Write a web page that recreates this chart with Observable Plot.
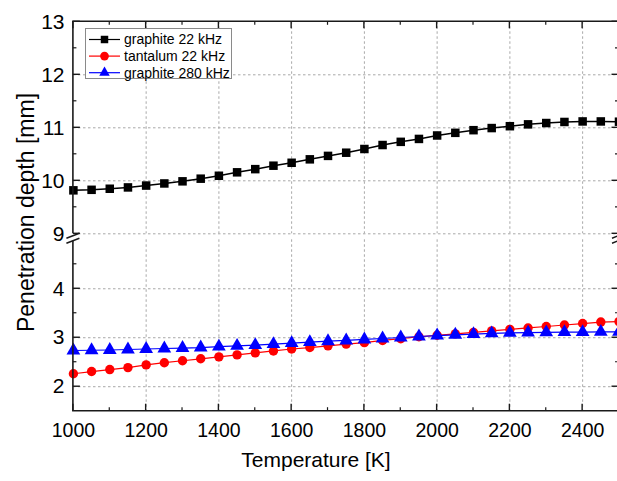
<!DOCTYPE html>
<html><head><meta charset="utf-8">
<script src="https://cdn.jsdelivr.net/npm/d3@7"></script>
<script src="https://cdn.jsdelivr.net/npm/@observablehq/plot@0.6"></script>
<style>html,body{margin:0;padding:0;overflow:hidden;background:#fff}
#chart{position:relative;width:617px;height:481px}
#chart svg{position:absolute;left:0;top:0}</style>
</head><body><div id="chart"></div>
<script>
const temperature = [1000,1050,1100,1150,1200,1250,1300,1350,1400,1450,1500,1550,1600,1650,1700,1750,1800,1850,1900,1950,2000,2050,2100,2150,2200,2250,2300,2350,2400,2450,2500];
const graphite22 = [9.82,9.83,9.85,9.875,9.91,9.95,9.99,10.04,10.095,10.16,10.22,10.285,10.34,10.405,10.47,10.53,10.60,10.675,10.735,10.79,10.855,10.905,10.955,10.995,11.03,11.065,11.09,11.11,11.12,11.12,11.115];
const tantalum22 = [2.265,2.31,2.35,2.39,2.445,2.49,2.53,2.57,2.61,2.65,2.69,2.73,2.77,2.80,2.835,2.87,2.90,2.945,2.98,3.02,3.05,3.08,3.11,3.14,3.17,3.20,3.23,3.26,3.29,3.32,3.33];
const graphite280 = [2.74,2.745,2.75,2.76,2.77,2.78,2.79,2.80,2.82,2.835,2.85,2.87,2.89,2.91,2.93,2.945,2.965,2.985,3.005,3.025,3.045,3.06,3.075,3.09,3.10,3.105,3.11,3.115,3.115,3.12,3.12];
const seriesNames = ["graphite 22 kHz", "tantalum 22 kHz", "graphite 280 kHz"];
const seriesColors = ["#000000", "#ff0000", "#0000ff"];
const seriesSymbols = ["square", "circle", "triangle"];
const xTickLabels = [1000,1200,1400,1600,1800,2000,2200,2400];
const xMinorTicks = [1100,1300,1500,1700,1900,2100,2300,2500];
const yTickLabelsLower = [2,3,4];
const yMinorLower = [2.5,3.5,4.5];
const yTickLabelsUpper = [9,10,11,12,13];
const yMinorUpper = [9.5,10.5,11.5,12.5];
const xDomain = [1000, 2500];
const yDomainLower = [1.5, 5];
const yDomainUpper = [9, 13];
const xTitle = "Temperature [K]";
const yTitle = "Penetration depth [mm]";

const seriesValues = [graphite22, tantalum22, graphite280];
const rows = [];
seriesNames.forEach((name, i) => temperature.forEach((t, j) => rows.push({T: t, depth: seriesValues[i][j], series: name})));

const ink = "#1a1a1a";
const FONT = "'Liberation Sans', Arial, sans-serif";
const symbolMap = {square: d3.symbolSquare, circle: d3.symbolCircle, triangle: d3.symbolTriangle};

function frameMark({bottom, top, yMajor, yMinor, breakAt}) {
  return (index, scales) => {
    const {x, y} = scales;
    const g = d3.create("svg:g");
    const x0 = x(xDomain[0]), x1 = x(xDomain[1]);
    const yb = y(bottom.value), yt = y(top.value);
    const line = (a, b, c, d, w = 1.6) => g.append("line").attr("x1", a).attr("y1", b).attr("x2", c).attr("y2", d)
      .attr("stroke", ink).attr("stroke-width", w);
    line(x0, yb, x0, yt); line(x1, yb, x1, yt);
    if (bottom.draw) {
      line(x0 - 0.8, yb, x1, yb);
      for (const v of xTickLabels) line(x(v), yb, x(v), yb - 7, 1.4);
      for (const v of xMinorTicks) line(x(v), yb, x(v), yb - 3.5, 1.2);
    }
    if (top.draw) {
      line(x0 - 0.8, yt, x1, yt);
      for (const v of xTickLabels) line(x(v), yt, x(v), yt + 7, 1.4);
      for (const v of xMinorTicks) line(x(v), yt, x(v), yt + 3.5, 1.2);
    }
    for (const v of yMajor) { line(x0, y(v), x0 + 7, y(v), 1.4); line(x1, y(v), x1 - 7, y(v), 1.4); }
    for (const v of yMinor) { line(x0, y(v), x0 + 3.5, y(v), 1.2); line(x1, y(v), x1 - 3.5, y(v), 1.2); }
    if (breakAt !== undefined) {
      const yHi = y(breakAt) + 2.4, yLo = y(breakAt) + 7.4;
      for (const xa of [x0, x1]) {
        g.append("polygon").attr("points", `${xa-6},${yHi+2.3} ${xa+6},${yHi-2.3} ${xa+6},${yLo-2.3} ${xa-6},${yLo+2.3}`).attr("fill", "#fff");
        line(xa - 6.5, yHi + 2.5, xa + 6.5, yHi - 2.5, 1.5);
        line(xa - 6.5, yLo + 2.5, xa + 6.5, yLo - 2.5, 1.5);
      }
    }
    return g.node();
  };
}

function titlesMark() {
  const g = d3.create("svg:g").attr("font-family", FONT).attr("fill", "#000");
  g.append("text").attr("x", 316).attr("y", 467).attr("text-anchor", "middle").style("font-size", "21px").text(xTitle);
  g.append("text").attr("transform", "translate(33.5,212.5) rotate(-90)").attr("text-anchor", "middle").style("font-size", "23px").text(yTitle);
  return g.node();
}

function legendMark() {
  const g = d3.create("svg:g").attr("font-family", FONT);
  g.append("rect").attr("x", 85.5).attr("y", 28.5).attr("width", 146).attr("height", 50)
    .attr("fill", "#fff").attr("stroke", "#8a8a8a").attr("stroke-width", 1);
  seriesNames.forEach((name, i) => {
    const cy = 39.5 + i * 16.6;
    g.append("line").attr("x1", 89).attr("x2", 120).attr("y1", cy).attr("y2", cy).attr("stroke", seriesColors[i]).attr("stroke-width", 1.2);
    const size = seriesSymbols[i] === "square" ? 56 : seriesSymbols[i] === "circle" ? 60 : 48;
    g.append("path").attr("d", d3.symbol(symbolMap[seriesSymbols[i]], size)()).attr("transform", `translate(104.5,${cy})`).attr("fill", seriesColors[i]);
    g.append("text").attr("x", 124).attr("y", cy).attr("dy", "0.35em").attr("text-anchor", "start").style("font-size", "14px").attr("fill", "#000").text(name);
  });
  return g.node();
}

const lineWidths = [1.5, 1.2, 1.2];
const dotR = [4.8, 4.7, 5.1];
const seriesMarks = (names) => names.flatMap((name) => {
  const i = seriesNames.indexOf(name);
  return [
    Plot.line(rows.filter(r => r.series === name), {x: "T", y: "depth", stroke: seriesColors[i], strokeWidth: lineWidths[i]}),
    Plot.dot(rows.filter(r => r.series === name), {x: "T", y: "depth", fill: seriesColors[i], symbol: seriesSymbols[i], r: dotR[i], stroke: "none"})
  ];
});

const gridStyle = {stroke: "#a8a8a8", strokeOpacity: 1, strokeWidth: 1, strokeDasharray: "2.5,2.5"};
const xRange = [72.9, 618.5];

// lower panel (1.5 – 5 mm)
const lower = Plot.plot({
  width: 617, height: 481,
  marginLeft: 73, marginRight: 0, marginTop: 239.3, marginBottom: 70.3,
  style: {fontFamily: FONT, fontSize: "19px", color: "#000", background: "#fff", overflow: "visible"},
  x: {domain: xDomain, range: xRange},
  y: {domain: yDomainLower},
  marks: [
    Plot.gridX(xTickLabels.slice(1), gridStyle),
    Plot.gridY(yTickLabelsLower, gridStyle),
    Plot.axisX(xTickLabels, {anchor: "bottom", tickSize: 0, tickPadding: 12, label: null, tickFormat: "d", fontSize: 19.5}),
    Plot.axisY(yTickLabelsLower, {anchor: "left", tickSize: 0, tickPadding: 9, label: null, tickFormat: "d", fontSize: 21}),
    ...seriesMarks(["tantalum 22 kHz", "graphite 280 kHz"]),
    frameMark({bottom: {value: yDomainLower[0], draw: true}, top: {value: yDomainLower[1], draw: false}, yMajor: yTickLabelsLower, yMinor: yMinorLower})
  ]
});

// upper panel (9 – 13 mm)
const upper = Plot.plot({
  width: 617, height: 481,
  marginLeft: 73, marginRight: 0, marginTop: 21.3, marginBottom: 247.7,
  style: {fontFamily: FONT, fontSize: "19px", color: "#000", background: "transparent", overflow: "visible"},
  x: {domain: xDomain, range: xRange, axis: null},
  y: {domain: yDomainUpper},
  marks: [
    Plot.gridX(xTickLabels.slice(1), gridStyle),
    Plot.gridY(yTickLabelsUpper.filter(v => v !== 13), gridStyle),
    Plot.axisY(yTickLabelsUpper, {anchor: "left", tickSize: 0, tickPadding: 9, label: null, tickFormat: "d", fontSize: 21}),
    ...seriesMarks(["graphite 22 kHz"]),
    frameMark({bottom: {value: yDomainUpper[0], draw: false}, top: {value: yDomainUpper[1], draw: true}, yMajor: yTickLabelsUpper, yMinor: yMinorUpper, breakAt: yDomainUpper[0]}),
    titlesMark,
    legendMark
  ]
});
document.getElementById("chart").append(lower, upper);
</script>
</body></html>
